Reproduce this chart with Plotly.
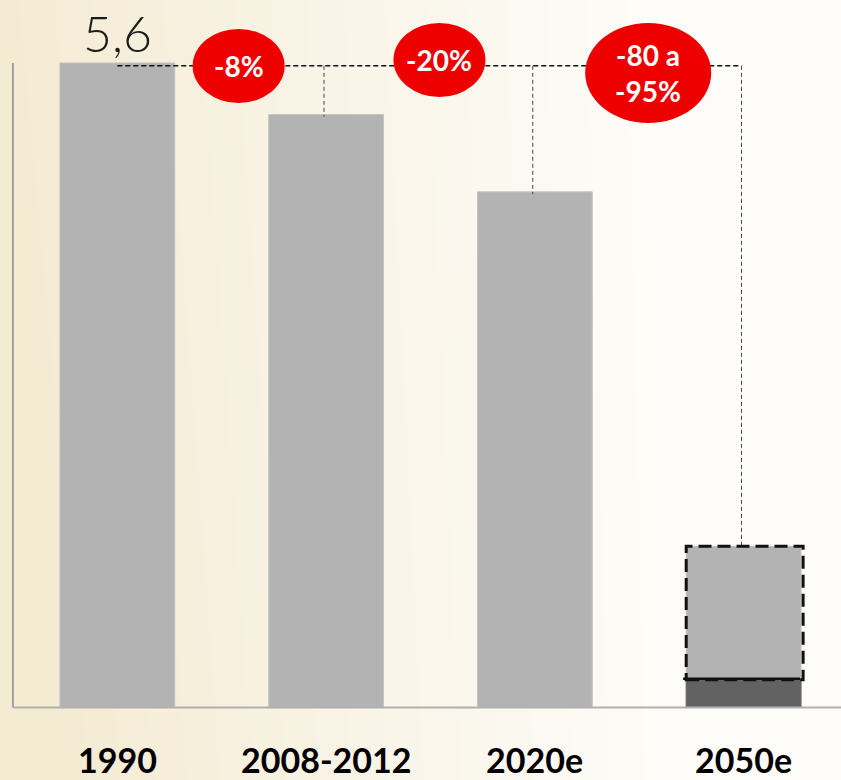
import numpy as np
import plotly.graph_objects as go

# Emission index by period (value 1990 = 5,6)
categories = ["1990", "2008-2012", "2020e", "2050e"]
values = [5.6, 5.152, 4.48, 1.4]
value_2050_low = 0.24
top_label = "5,6"
badges = ["-8%", "-20%", "-80 a<br>-95%"]

W, H = 841, 780
xs = list(range(len(categories)))
x_range = [-0.562, 3.4665]
y_range = [-0.63, 6.147]

fig = go.Figure()

# soft cream-to-white page background
gx = np.linspace(x_range[0], x_range[1], 60)
gy = np.linspace(y_range[0], y_range[1], 60)
GX, GY = np.meshgrid(gx, gy)
u = (GX - x_range[0]) / (x_range[1] - x_range[0])
v = (GY - y_range[0]) / (y_range[1] - y_range[0])
z = np.clip(1 - 1.3 * u + 0.12 * (1 - v) * (1 - u), 0, 1)
fig.add_trace(go.Heatmap(
    x=gx, y=gy, z=z, zmin=0, zmax=1, zsmooth="best", showscale=False,
    hoverinfo="skip",
    colorscale=[[0, "#fdfcf8"], [0.5, "#f9f4e7"], [1, "#f4ebd3"]],
))

bar_color = "#b3b3b3"
fig.add_trace(go.Bar(
    x=xs, y=values, width=0.55,
    marker=dict(color=bar_color, line=dict(color="#c4c4c4", width=1)),
    hoverinfo="skip",
))
fig.add_trace(go.Bar(
    x=[xs[3]], y=[value_2050_low], width=0.55,
    marker=dict(color="#626262", line=dict(color="#6a6a6a", width=1)),
    hoverinfo="skip",
))

shapes = []
# axis lines
shapes.append(dict(type="line", x0=-0.5, x1=-0.5, y0=0, y1=values[0],
                   line=dict(color="#a0a0a0", width=2)))
shapes.append(dict(type="line", x0=-0.5, x1=x_range[1], y0=0, y1=0,
                   line=dict(color="#b0b0b0", width=2)))

# dashed connectors from the 1990 level
ref = values[0] - 0.025
shapes.append(dict(type="line", x0=xs[0], x1=xs[3] - 0.01, y0=ref, y1=ref,
                   line=dict(color="#111111", width=1.5, dash="5px,3px")))
for i in (1, 2, 3):
    shapes.append(dict(type="line", x0=xs[i] - 0.01, x1=xs[i] - 0.01,
                       y0=ref, y1=values[i] - 0.02,
                       line=dict(color="#444444", width=1, dash="4px,3px")))

# dashed frame of the 2050 target range
shapes.append(dict(type="rect", x0=xs[3] - 0.275, x1=xs[3] + 0.285,
                   y0=value_2050_low, y1=values[3],
                   line=dict(color="#111111", width=3, dash="13px,6px")))
shapes.append(dict(type="line", x0=xs[3] - 0.29, x1=xs[3] + 0.27,
                   y0=value_2050_low + 0.01, y1=value_2050_low + 0.01,
                   line=dict(color="#111111", width=2.5)))

# red badges
badge_pos = [(0.581, 5.574, 46, 37), (1.543, 5.626, 46, 37), (2.543, 5.513, 63, 50)]
for (bx, by, rx, ry), txt in zip(badge_pos, badges):
    shapes.append(dict(type="circle", xref="x", yref="y",
                       xsizemode="pixel", ysizemode="pixel",
                       xanchor=bx, yanchor=by, x0=-rx, x1=rx, y0=-ry, y1=ry,
                       fillcolor="#ee0000", line=dict(width=0), layer="above"))

annotations = []
for (bx, by, rx, ry), txt in zip(badge_pos, badges):
    annotations.append(dict(x=bx, y=by, text=f"<b>{txt}</b>", showarrow=False,
                            font=dict(family="Lato", size=28, color="white"),
                            xanchor="center", yanchor="middle"))
annotations.append(dict(x=xs[0], y=5.86, text=top_label, showarrow=False,
                        font=dict(family="Lato", size=50, color="#1a1a1a", weight=300),
                        xanchor="center", yanchor="middle"))
for x, c in zip(xs, categories):
    annotations.append(dict(x=x, y=-0.455, text=f"<b>{c}</b>", showarrow=False,
                            font=dict(family="Lato", size=34, color="#000000", weight=900),
                            xanchor="center", yanchor="middle"))

fig.update_layout(
    width=W, height=H, margin=dict(l=0, r=0, t=0, b=0),
    barmode="overlay", showlegend=False,
    paper_bgcolor="#fbf8ef", plot_bgcolor="rgba(0,0,0,0)",
    xaxis=dict(range=x_range, visible=False, fixedrange=True),
    yaxis=dict(range=y_range, visible=False, fixedrange=True),
    shapes=shapes, annotations=annotations,
)

fig.write_html("out.html")
